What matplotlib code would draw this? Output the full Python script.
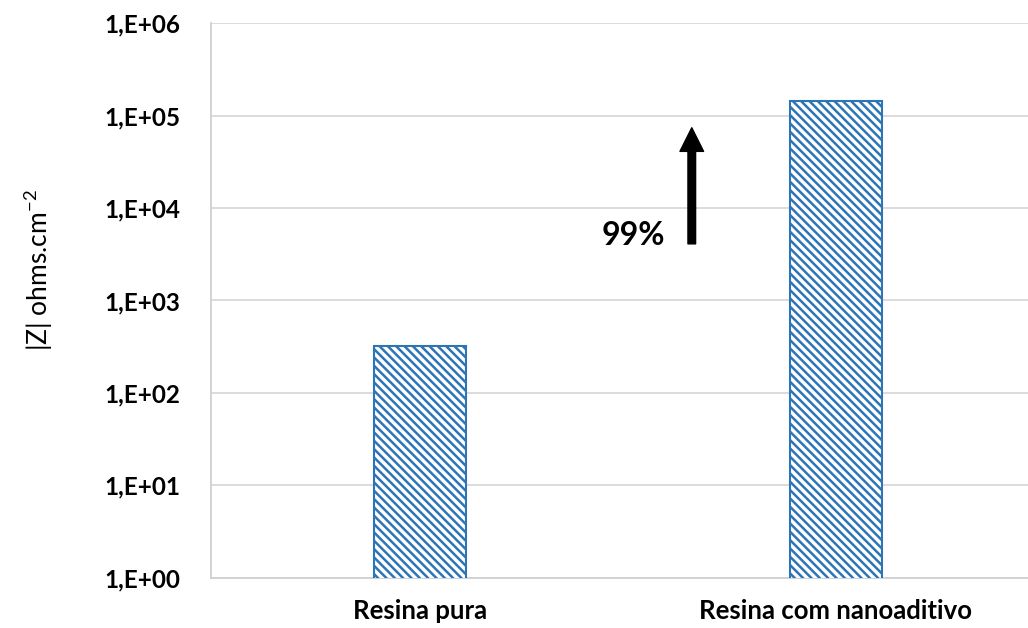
import numpy as np
import matplotlib.pyplot as plt
from matplotlib.ticker import FixedLocator, FuncFormatter

plt.rcParams['font.family'] = ['Lato', 'DejaVu Sans']
plt.rcParams['hatch.color'] = '#4472C4'
plt.rcParams['hatch.linewidth'] = 1.8

categories = ['Resina pura', 'Resina com nanoaditivo']
impedance = [320, 145000]
yticks = [1e0, 1e1, 1e2, 1e3, 1e4, 1e5, 1e6]

fig = plt.figure(figsize=(10.28, 6.28), dpi=100)
ax = fig.add_axes([0.205, 0.08, 0.795, 0.883])

x = np.arange(len(categories))
ax.bar(x, impedance, width=0.221, color='white', edgecolor='#2E75B6',
       linewidth=1.5, hatch='\\\\\\\\', zorder=3)

ax.set_yscale('log')
ax.set_ylim(1, 1e6)
ax.set_xlim(-0.502, 1.462)
ax.yaxis.set_major_locator(FixedLocator(yticks))
ax.yaxis.set_minor_locator(FixedLocator([]))
ax.yaxis.set_major_formatter(FuncFormatter(lambda v, p: '1,E+%02d' % round(np.log10(v))))
ax.set_xticks(x)
ax.set_xticklabels(categories)
for lab in ax.get_yticklabels():
    lab.set_fontweight('bold')
    lab.set_fontsize(17.5)
for lab in ax.get_xticklabels():
    lab.set_fontweight('bold')
    lab.set_fontsize(18.5)
ax.tick_params(axis='y', length=0, pad=22)
ax.tick_params(axis='x', length=0, pad=15)

ax.grid(axis='y', color='#D9D9D9', linewidth=1.3, zorder=0)
for s in ['top', 'right']:
    ax.spines[s].set_visible(False)
for s in ['left', 'bottom']:
    ax.spines[s].set_color('#D0D0D0')
    ax.spines[s].set_linewidth(1.3)

fig.text(38 / 1028, 1 - 270 / 628, '|Z| ohms.cm$^{\\mathregular{-2}}$', fontsize=19,
         rotation=90, ha='center', va='center')

ax.annotate('', xy=(0.654, 7.4e4), xytext=(0.654, 4100),
            arrowprops=dict(facecolor='black', edgecolor='black', width=5.5,
                            headwidth=17, headlength=17, shrink=0))
ax.text(0.589, 5000, '99%', fontsize=23, fontweight='bold', ha='right', va='center')

fig.savefig('out.png')
